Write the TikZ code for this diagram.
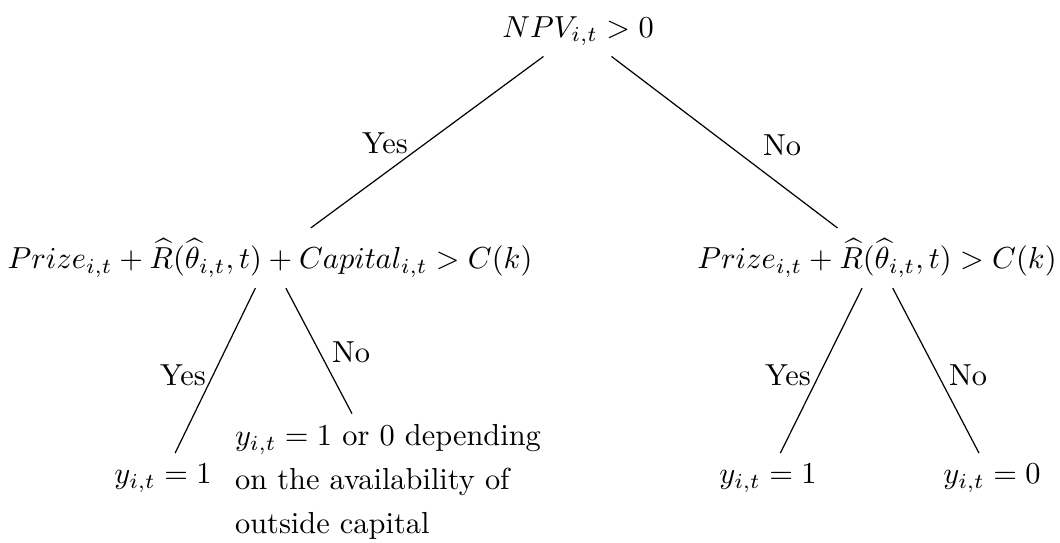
\documentclass[tikz,border=0pt]{standalone}
\usepackage{amsmath}
\begin{document}
\begin{tikzpicture}[x=0.329pt,y=-0.329pt,
  every node/.style={inner sep=3.33pt},
  lbl/.style={inner sep=0pt},
  multi/.style={align=left, font=\fontsize{10}{14.5}\selectfont},
  branch/.style={draw=black, line width=0.4pt}]
\useasboundingbox (0,0) rectangle (1060,542);
\node (root) at (578,31) {$NPV_{i,t} > 0$};
\node (L) at (270,258) {$Prize_{i,t} + \widehat{R}(\widehat{\theta}_{i,t},t) + Capital_{i,t} > C(k)$};
\node (R) at (877,258) {$Prize_{i,t} + \widehat{R}(\widehat{\theta}_{i,t},t) > C(k)$};
\node (LL) at (163,478) {$y_{i,t} = 1$};
\node[multi] (LR) at (388,482) {$y_{i,t} = 1$ or 0 depending\\on the availability of\\outside capital};
\node (RL) at (768,478) {$y_{i,t} = 1$};
\node (RR) at (992,478) {$y_{i,t} = 0$};
\draw[branch] (root) -- (L);
\draw[branch] (root) -- (R);
\draw[branch] (L) -- (LL);
\draw[branch] (L) -- (LR);
\draw[branch] (R) -- (RL);
\draw[branch] (R) -- (RR);
\node[lbl] at (385,143) {Yes};
\node[lbl] at (782,145) {No};
\node[lbl] at (183,375) {Yes};
\node[lbl] at (351,352) {No};
\node[lbl] at (788,375) {Yes};
\node[lbl] at (968,375) {No};
\end{tikzpicture}
\end{document}
